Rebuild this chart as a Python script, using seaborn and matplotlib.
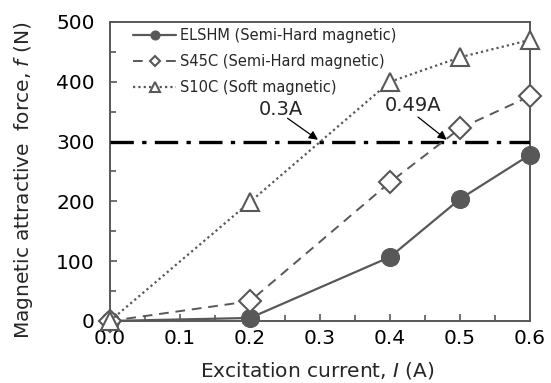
import matplotlib
matplotlib.use("Agg")
import matplotlib.pyplot as plt
import seaborn as sns

current = [0.0, 0.2, 0.4, 0.5, 0.6]
elshm = [0, 5, 107, 204, 278]
s45c = [0, 33, 232, 322, 376]
s10c = [0, 199, 400, 441, 470]
labels = ["ELSHM (Semi-Hard magnetic)", "S45C (Semi-Hard magnetic)", "S10C (Soft magnetic)"]
threshold = 300
ann_texts = ["0.3A", "0.49A"]
ann_x = [0.297, 0.481]
ann_text_pos = [(0.2436, 354), (0.4336, 361)]
ann_tail = [(0.2536, 339), (0.440, 341)]

sns.set_theme(style="ticks")
plt.rcParams['font.family'] = ['DejaVu Sans']
plt.rcParams['mathtext.fontset'] = 'dejavusans'

fig = plt.figure(figsize=(5.51, 3.83), dpi=100)
ax = fig.add_axes([0.1996, 0.162, 0.7624, 0.7806])

gray = "#585858"
sns.lineplot(x=current, y=elshm, ax=ax, color=gray, lw=1.6, linestyle='-',
             marker='o', ms=13, markerfacecolor=gray, markeredgecolor=gray,
             label=labels[0], clip_on=False, zorder=5)
sns.lineplot(x=current, y=s45c, ax=ax, color=gray, lw=1.4, linestyle=(0, (5, 3.5)),
             marker='D', ms=11, markerfacecolor='white', markeredgecolor=gray, markeredgewidth=1.5,
             label=labels[1], clip_on=False, zorder=5)
sns.lineplot(x=current, y=s10c, ax=ax, color=gray, lw=1.6, linestyle=(0, (1, 1.4)),
             marker='^', ms=13, markerfacecolor='white', markeredgecolor=gray, markeredgewidth=1.5,
             label=labels[2], clip_on=False, zorder=5)

ax.plot([0, 0.6], [threshold, threshold], color='black', lw=2.4,
        linestyle=(0, (7, 2.5, 1.3, 2.5)), zorder=3)

for txt, xt, pos, tail in zip(ann_texts, ann_x, ann_text_pos, ann_tail):
    ax.text(pos[0], pos[1], txt, ha='center', va='center', fontsize=14)
    ax.annotate("", xy=(xt, threshold + 3), xytext=tail,
                arrowprops=dict(arrowstyle='-|>', color='black', lw=0.9, mutation_scale=13,
                                shrinkA=0, shrinkB=0))

ax.set_xlim(0, 0.6)
ax.set_ylim(0, 500)
ax.set_xticks([0, 0.1, 0.2, 0.3, 0.4, 0.5, 0.6])
ax.set_xticklabels(["0.0", "0.1", "0.2", "0.3", "0.4", "0.5", "0.6"])
ax.set_yticks([0, 100, 200, 300, 400, 500])
ax.set_xticks([0.05, 0.15, 0.25, 0.35, 0.45, 0.55], minor=True)
ax.set_yticks([50, 150, 250, 350, 450], minor=True)
ax.tick_params(axis='both', which='both', direction='in', color=gray, width=1.2,
               labelsize=14.5, labelcolor='black')
ax.tick_params(axis='x', which='both', pad=6)
ax.tick_params(axis='y', which='both', pad=11)
ax.tick_params(which='major', length=5)
ax.tick_params(which='minor', length=4)
for s in ax.spines.values():
    s.set_visible(True)
    s.set_color(gray)
    s.set_linewidth(1.4)

ax.set_xlabel("Excitation current, $\\mathit{I}$ (A)", fontsize=14.5)
ax.set_ylabel("Magnetic attractive  force, $\\mathit{f}$ (N)", fontsize=14.5)
ax.xaxis.set_label_coords(0.493, -0.132)
ax.yaxis.set_label_coords(-0.178, 0.47)

leg = ax.legend(loc='upper left', frameon=False, fontsize=10.5, handlelength=2.9,
                handletextpad=0.3, borderaxespad=0.0, labelspacing=0.75,
                bbox_to_anchor=(0.042, 1.0), markerscale=0.5)

fig.savefig("out.png", dpi=100)
